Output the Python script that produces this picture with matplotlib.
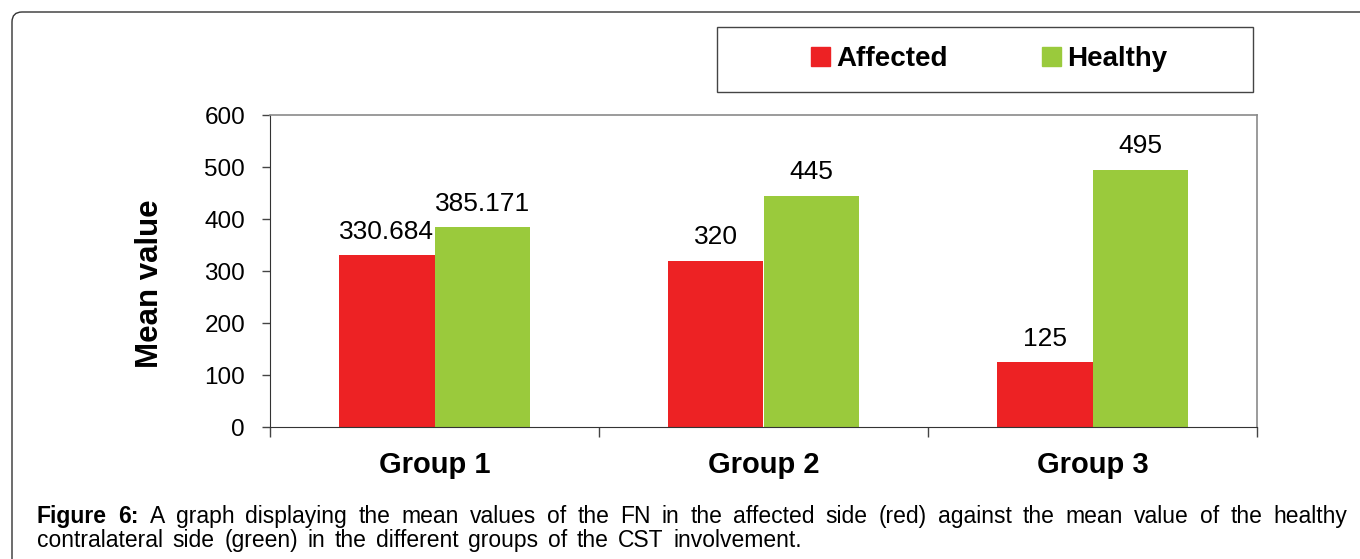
import matplotlib
matplotlib.use("Agg")
import matplotlib.pyplot as plt
from matplotlib.patches import FancyBboxPatch, Rectangle, Patch
from matplotlib.transforms import IdentityTransform
import numpy as np

plt.rcParams['font.family'] = ['Liberation Sans', 'DejaVu Sans']

groups = ["Group 1", "Group 2", "Group 3"]
affected = [330.684, 320, 125]
healthy = [385.171, 445, 495]
affected_labels = ["330.684", "320", "125"]
healthy_labels = ["385.171", "445", "495"]
series_names = ["Affected", "Healthy"]
yticks = [0, 100, 200, 300, 400, 500, 600]
caption_1 = "Figure 6: A graph displaying the mean values of the FN in the affected side (red) against the mean value of the healthy"
caption_2 = "contralateral side (green) in the different groups of the CST involvement."

red = "#ED2224"
green = "#9ACA3C"
W, H = 1360, 559

fig = plt.figure(figsize=(W / 100, H / 100), dpi=100)
ax = fig.add_axes([270 / W, 1 - 427 / H, (1257 - 270) / W, (427 - 115) / H])

x = np.arange(len(groups))
width = 0.29
b1 = ax.bar(x - width / 2, affected, width, color=red, label=series_names[0])
b2 = ax.bar(x + width / 2, healthy, width, color=green, label=series_names[1])
ax.bar_label(b1, labels=affected_labels, padding=8, fontsize=19)
ax.bar_label(b2, labels=healthy_labels, padding=8, fontsize=19)

ax.set_xlim(-0.5, len(groups) - 0.5)
ax.set_ylim(0, 600)
ax.set_yticks(yticks)
ax.tick_params(axis='y', labelsize=17.5, length=6, width=1, color="#444444", pad=12)
ax.set_xticks(x)
ax.set_xticklabels(groups, fontsize=21, fontweight='bold')
ax.tick_params(axis='x', which='major', length=0, pad=17)
ax.set_xticks(np.arange(len(groups) + 1) - 0.5, minor=True)
ax.tick_params(axis='x', which='minor', length=7, width=1, color="#444444")

for side in ["left", "bottom"]:
    ax.spines[side].set_color("#333333")
for side in ["top", "right"]:
    ax.spines[side].set_color("#8a8a8a")
    ax.spines[side].set_linewidth(1.2)

ax.set_ylabel("Mean value", fontsize=22.5, fontweight='bold', va='center')
ax.yaxis.set_label_coords((150 - 270) / (1257 - 270), (427 - 284) / (427 - 115))

# legend box
fig.patches.append(Rectangle((717 / W, 1 - 92 / H), (1253 - 717) / W, (92 - 27) / H,
                             transform=fig.transFigure, fill=False, edgecolor="#444444", lw=1))
handles = [Patch(color=red), Patch(color=green)]
leg = fig.legend(handles, series_names, loc='center', bbox_to_anchor=(989 / W, 1 - 59.5 / H),
                 ncol=2, frameon=False, prop={'size': 20, 'weight': 'bold'},
                 handlelength=0.68, handleheight=0.68, handletextpad=0.22, columnspacing=3.4)

# outer rounded frame
fig.patches.append(FancyBboxPatch((12, -60), W + 100, H - 12 + 60, boxstyle="round,pad=0,rounding_size=10",
                                  transform=IdentityTransform(), fill=False, edgecolor="#333333", lw=1))

# caption, words spread between given left and right edges
renderer = fig.canvas.get_renderer()


def caption_line(text, y_px, x_left, x_right, n_bold=0):
    words = text.split(" ")
    items = [fig.text(0, 1 - y_px / H, wd, fontsize=16.5, fontweight='bold' if i < n_bold else 'normal')
             for i, wd in enumerate(words)]
    widths = [t.get_window_extent(renderer).width for t in items]
    gap = (x_right - x_left - sum(widths)) / (len(words) - 1)
    xpos = x_left
    for t, wd in zip(items, widths):
        t.set_x(xpos / W)
        xpos += wd + gap


caption_line(caption_1, 523, 37, 1347, n_bold=2)
caption_line(caption_2, 547, 37, 802)

fig.savefig("out.png", dpi=100)
